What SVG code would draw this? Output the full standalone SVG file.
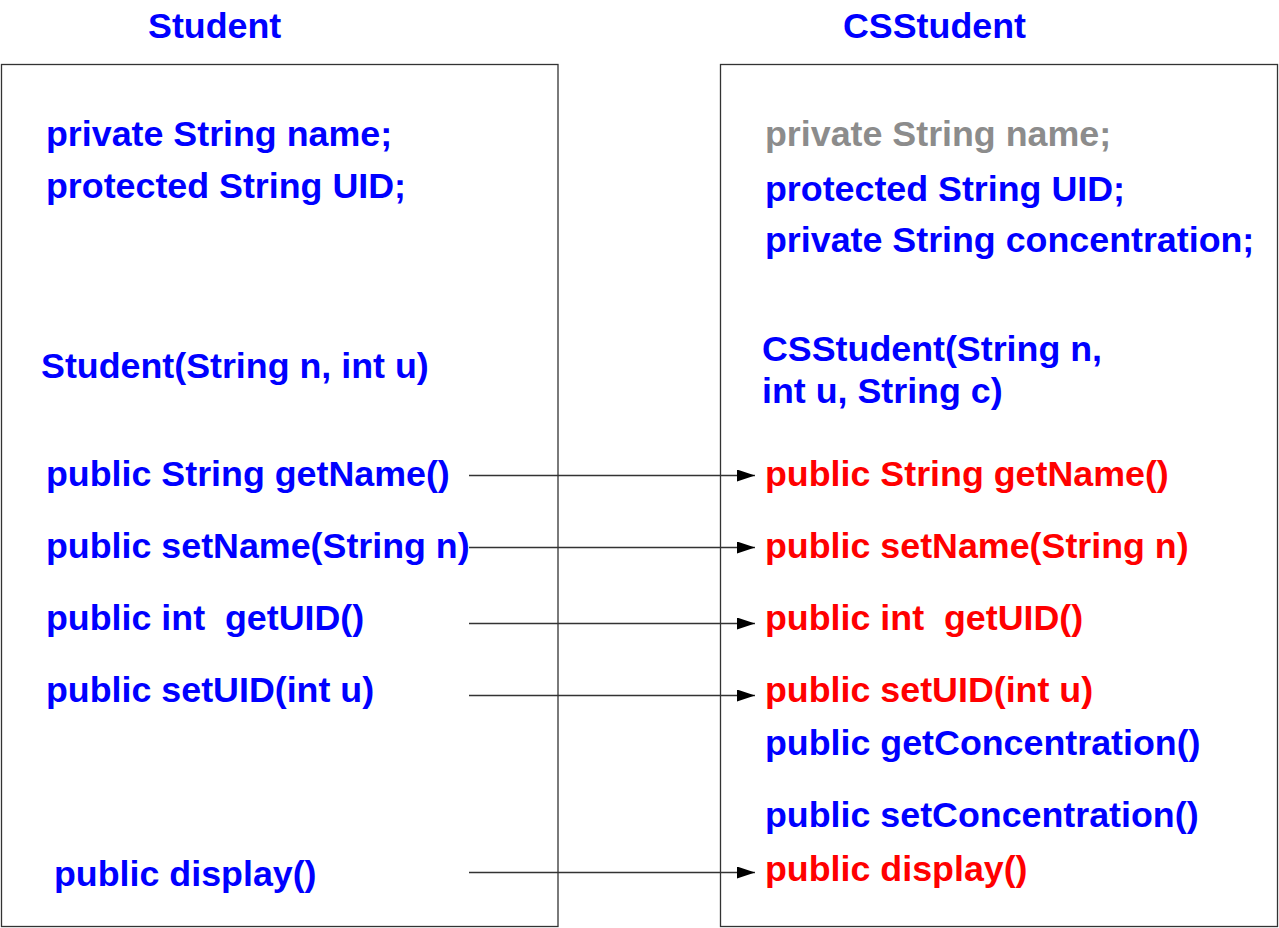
<svg xmlns="http://www.w3.org/2000/svg" width="1279" height="928" viewBox="0 0 1279 928">
<style>
text { font-family: "Liberation Sans", Arial, sans-serif; font-weight: bold; font-size: 35.8px; }
.b { fill: #0000ff; }
.r { fill: #ff0000; }
.g { fill: #8c8c8c; }
.box { fill: #ffffff; stroke: #333333; stroke-width: 1.3; }
.conn { stroke: #333333; stroke-width: 1.3; fill: none; marker-end: url(#arr); }
</style>
<defs>
<marker id="arr" markerUnits="userSpaceOnUse" markerWidth="20" markerHeight="14" refX="18" refY="6" orient="auto">
<path d="M0,0 L18,6 L0,12 Z" fill="#000000"/>
</marker>
</defs>
<rect width="1279" height="928" fill="#ffffff"/>
<g id="student">
<rect class="box" x="1.5" y="64.5" width="556.5" height="862"/>
<text class="b" x="148" y="38">Student</text>
<text class="b" x="46" y="146">private String name;</text>
<text class="b" x="46" y="198">protected String UID;</text>
<text class="b" x="41" y="378">Student(String n, int u)</text>
<text class="b" x="46" y="486">public String getName()</text>
<text class="b" x="46" y="558">public setName(String n)</text>
<text class="b" x="46" y="630" xml:space="preserve">public int  getUID()</text>
<text class="b" x="46" y="702">public setUID(int u)</text>
<text class="b" x="54" y="886">public display()</text>
</g>
<g id="csstudent">
<rect class="box" x="720.5" y="64.5" width="557" height="862"/>
<text class="b" x="843" y="38">CSStudent</text>
<text class="g" x="765" y="146">private String name;</text>
<text class="b" x="765" y="201">protected String UID;</text>
<text class="b" x="765" y="252">private String concentration;</text>
<text class="b" x="762" y="361">CSStudent(String n,</text>
<text class="b" x="762" y="403">int u, String c)</text>
<text class="r" x="765" y="486">public String getName()</text>
<text class="r" x="765" y="558">public setName(String n)</text>
<text class="r" x="765" y="630" xml:space="preserve">public int  getUID()</text>
<text class="r" x="765" y="702">public setUID(int u)</text>
<text class="b" x="765" y="755">public getConcentration()</text>
<text class="b" x="765" y="827">public setConcentration()</text>
<text class="r" x="765" y="881">public display()</text>
</g>
<g id="connectors">
<line class="conn" x1="469" y1="475.5" x2="755" y2="475.5"/>
<line class="conn" x1="469" y1="547.5" x2="755" y2="547.5"/>
<line class="conn" x1="469" y1="623.5" x2="755" y2="623.5"/>
<line class="conn" x1="469" y1="695.5" x2="755" y2="695.5"/>
<line class="conn" x1="469" y1="872.5" x2="755" y2="872.5"/>
</g>
</svg>
